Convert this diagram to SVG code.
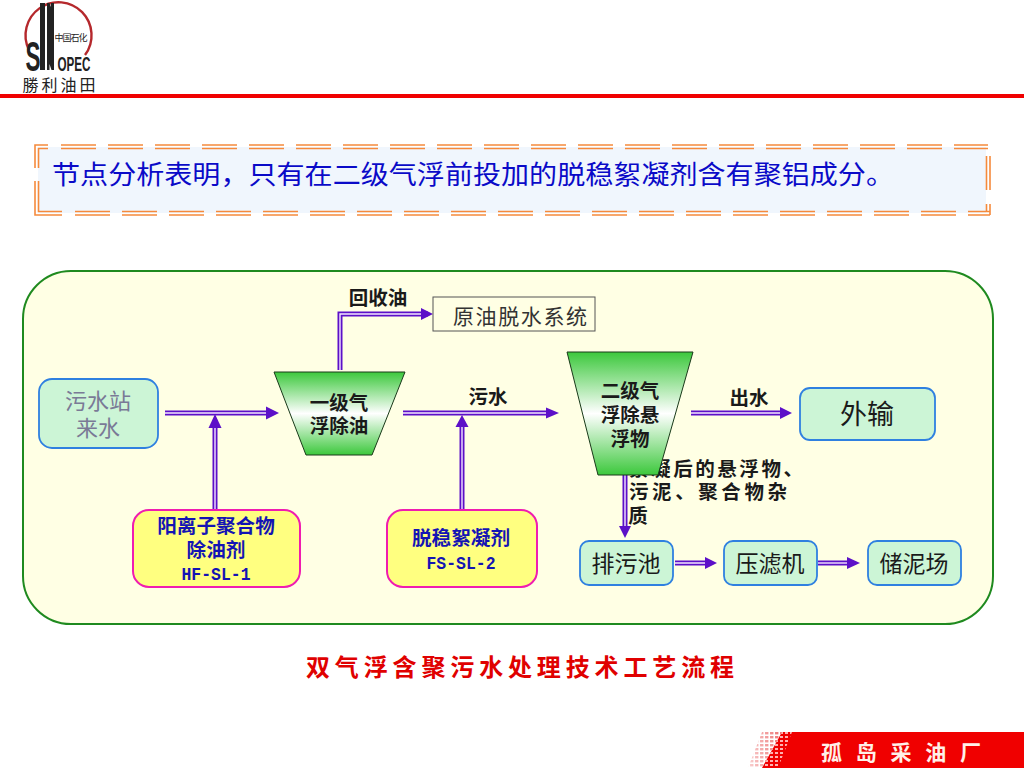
<svg xmlns="http://www.w3.org/2000/svg" width="1024" height="768" viewBox="0 0 1024 768">
<style>
text{font-family:"Liberation Sans","Noto Sans CJK SC",sans-serif;text-anchor:middle}
.cj{font-family:"Noto Sans CJK SC","Liberation Sans",sans-serif}
.lbl{font-size:19.500px;font-weight:700;fill:#1a1a1a}
.box{fill:#ccf5d6;stroke:#2f80e0;stroke-width:1.800}
.boxt{font-size:23px;fill:#1a1a1a}
.src{font-size:22px;fill:#7a7a96}
.add{fill:#ffff80;stroke:#f01cb0;stroke-width:2}
.addt{font-size:19.600px;font-weight:700;fill:#1414b4}
.code{font-family:"Liberation Mono",monospace;font-size:19px;font-weight:700;fill:#1414b4}
.trap{fill:url(#tg);stroke:#1a3a1a;stroke-width:1}
.ot{fill:none;stroke:#5c10c8;stroke-width:5}
.in{fill:none;stroke:#f4e8ff;stroke-width:1.400}
.ar{fill:#5c10c8}
.ol{fill:none;stroke:#f58a3c;stroke-width:1.600}
.dash{stroke-dasharray:35 12}
</style>
<defs>
<linearGradient id="tg" x1="0" y1="0" x2="0" y2="1">
<stop offset="0" stop-color="#3cc83c"/><stop offset="0.5" stop-color="#ffffff"/><stop offset="1" stop-color="#3cc83c"/>
</linearGradient>
<linearGradient id="fade" x1="0" y1="0" x2="1" y2="0">
<stop offset="0" stop-color="#fff" stop-opacity="0.2"/><stop offset="1" stop-color="#fff"/>
</linearGradient>
<pattern id="dots" width="5" height="4" patternUnits="userSpaceOnUse"><rect width="3.400" height="2.400" fill="#e64040"/></pattern>
<pattern id="wdots" width="5" height="4" patternUnits="userSpaceOnUse"><rect width="3" height="2" fill="#ffb0b0"/></pattern>
<mask id="fm" maskUnits="userSpaceOnUse" x="740" y="730" width="60" height="40"><rect x="745" y="730" width="55" height="40" fill="url(#fade)"/></mask>
</defs>
<rect width="1024" height="768" fill="#fff"/>

<g id="logo">
<path d="M29 50A33 33 0 1 1 85 55" fill="none" stroke="#b5282c" stroke-width="2.400"/>
<rect x="40" y="3" width="5" height="67" fill="#222"/>
<path d="M47 3h2.500l1.500 4V3h3v67h-2.500l-2-6v6H47z" fill="#222"/>
<text x="33" y="71" font-size="42" font-weight="700" fill="#222" textLength="15" lengthAdjust="spacingAndGlyphs">S</text>
<text x="74" y="71" font-size="21" font-weight="700" fill="#222" textLength="33" lengthAdjust="spacingAndGlyphs">OPEC</text>
<text class="cj" x="71" y="41" font-size="9" fill="#222" textLength="33">中国石化</text>
<text class="cj" x="59" y="91" font-size="16" fill="#222" textLength="73">勝利油田</text>
</g>
<rect id="topline" x="0" y="94" width="1024" height="4" fill="#f00000"/>

<g id="headline">
<rect x="38" y="147" width="948" height="66" fill="#f0f6fd"/>
<path class="ol dash" d="M61 145H988M61 148.500H988"/>
<path class="ol dash" d="M75 211.500H990M75 215H990"/>
<path class="ol" d="M48 145H35V168M48 148.500H38.500V168M35 181V215H62M38.500 181V211.500H62"/>
<path class="ol" d="M990 156V190M986.500 156V190M990 204V215M986.500 204V211.500"/>
<text class="cj" x="473" y="184" font-size="26" fill="#0a0ac8" textLength="842" lengthAdjust="spacingAndGlyphs">节点分析表明，只有在二级气浮前投加的脱稳絮凝剂含有聚铝成分。</text>
</g>

<rect id="panel" x="23" y="271" width="970" height="353" rx="48" ry="48" fill="#ffffe4" stroke="#1f8a1f" stroke-width="2"/>

<g id="connectors">
<path class="ot" d="M165 413H268"/><path class="in" d="M165 413H270"/><path class="ar" d="M266 406.500L279 413L266 419.500z"/>
<path class="ot" d="M215 510V424"/><path class="in" d="M215 510V424"/><path class="ar" d="M208.500 428L215 414L221.500 428z"/>
<path class="ot" d="M340 370V314H428"/><path class="in" d="M340 370V314H428"/><path class="ar" d="M421 308L433 314L421 320z"/>
<path class="ot" d="M403 413H548"/><path class="in" d="M403 413H548"/><path class="ar" d="M546 407.500L559 413L546 418.500z"/>
<path class="ot" d="M462 510V425"/><path class="in" d="M462 510V425"/><path class="ar" d="M455.500 427L462 415L468.500 427z"/>
<path class="ot" d="M691 413H784"/><path class="in" d="M691 413H784"/><path class="ar" d="M780 407L792 413L780 419z"/>
<path class="ot" d="M625 470V528"/><path class="in" d="M625 470V528"/><path class="ar" d="M619 526H631L625 538z"/>
<path class="ot" d="M675 563H708"/><path class="in" d="M675 563H708"/><path class="ar" d="M705 557L717 563L705 569z"/>
<path class="ot" d="M818 563H850"/><path class="in" d="M818 563H850"/><path class="ar" d="M847 557L860 563L847 569z"/>
</g>

<g id="label-oil"><text class="lbl" x="378" y="305">回收油</text></g>
<g id="label-sewage"><text class="lbl" x="488" y="404">污水</text></g>
<g id="label-out"><text class="lbl" x="749" y="405">出水</text></g>
<g id="label-sludge">
<text class="lbl" x="716" y="476" textLength="174">絮凝后的悬浮物、</text>
<text class="lbl" x="708" y="499" textLength="158">污泥、聚合物杂</text>
<text class="lbl" x="638" y="523">质</text>
</g>

<g id="crude">
<rect x="433" y="297" width="162" height="34" fill="#ffffe4" stroke="#555" stroke-width="1"/>
<text x="520" y="324" font-size="21" fill="#333" textLength="134">原油脱水系统</text>
</g>
<g id="source">
<rect class="box" x="39" y="379" width="119" height="69" rx="13"/>
<text class="src" x="98" y="409">污水站</text>
<text class="src" x="98" y="436">来水</text>
</g>
<g id="tank1">
<path class="trap" d="M274 372H405L372 455H306z"/>
<text class="lbl" x="339" y="410">一级气</text>
<text class="lbl" x="339" y="433">浮除油</text>
</g>
<g id="tank2">
<path class="trap" d="M567 352H693L658 475H598z"/>
<text class="lbl" x="630" y="398">二级气</text>
<text class="lbl" x="630" y="422">浮除悬</text>
<text class="lbl" x="630" y="446">浮物</text>
</g>
<g id="export">
<rect class="box" x="800" y="388" width="135" height="52" rx="10"/>
<text x="867" y="424" font-size="27" fill="#1a1a1a">外输</text>
</g>
<g id="agent1">
<rect class="add" x="133" y="510" width="167" height="77" rx="16"/>
<text class="addt" x="216" y="533">阳离子聚合物</text>
<text class="addt" x="216" y="557">除油剂</text>
<text class="code" x="216" y="580" textLength="69" lengthAdjust="spacingAndGlyphs">HF-SL-1</text>
</g>
<g id="agent2">
<rect class="add" x="387" y="510" width="150" height="77" rx="16"/>
<text class="addt" x="461" y="545">脱稳絮凝剂</text>
<text class="code" x="461" y="569" textLength="69" lengthAdjust="spacingAndGlyphs">FS-SL-2</text>
</g>
<g id="drain">
<rect class="box" x="580" y="541" width="93" height="44" rx="9"/>
<text class="boxt" x="626" y="572">排污池</text>
</g>
<g id="press">
<rect class="box" x="724" y="541" width="93" height="44" rx="9"/>
<text class="boxt" x="770" y="572">压滤机</text>
</g>
<g id="yard">
<rect class="box" x="868" y="541" width="93" height="44" rx="9"/>
<text class="boxt" x="914" y="572">储泥场</text>
</g>

<g id="caption"><text x="520" y="676" font-size="24" font-weight="700" fill="#e00000" textLength="428" style="font-family:'Liberation Serif','Noto Sans CJK SC',serif">双气浮含聚污水处理技术工艺流程</text></g>

<g id="footer">
<path d="M782 732H1024V768H762z" fill="#f00000"/>
<path d="M748 768L762 732H782L762 768z" fill="url(#dots)" mask="url(#fm)"/>
<path d="M762 768L782 732H792L778 768z" fill="url(#wdots)"/>
<text x="901" y="760" font-size="21" font-weight="700" fill="#fff0e8" textLength="160">孤 岛 采 油 厂</text>
</g>
</svg>
